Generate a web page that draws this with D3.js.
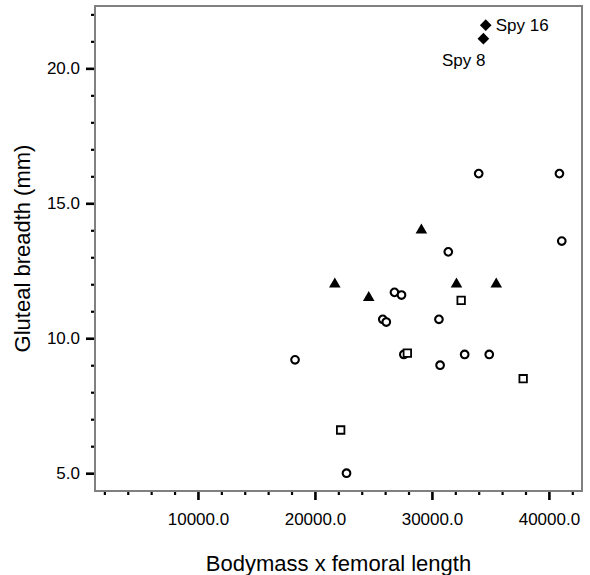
<!DOCTYPE html>
<html>
<head>
<meta charset="utf-8">
<script src="https://cdn.jsdelivr.net/npm/d3@7"></script>
<style>
  body { margin: 0; background: #fff; }
  text { font-family: "Liberation Sans", Arial, sans-serif; fill: #000; }
</style>
</head>
<body>
<div id="chart"></div>
<script>
// data
const circleX = [18300, 22700, 25800, 26100, 26800, 27400, 27600, 30600, 30700, 31400, 32800, 34000, 34900, 40900, 41100];
const circleY = [9.2, 5.0, 10.7, 10.6, 11.7, 11.6, 9.4, 10.7, 9.0, 13.2, 9.4, 16.1, 9.4, 16.1, 13.6];
const triangleX = [21700, 24600, 29100, 32100, 35500];
const triangleY = [12.0, 11.5, 14.0, 12.0, 12.0];
const squareX = [22200, 27900, 32500, 37800];
const squareY = [6.6, 9.45, 11.4, 8.5];
const diamondX = [34400, 34600];
const diamondY = [21.1, 21.6];
const diamondLabels = ["Spy 8", "Spy 16"];
const xTicks = [10000, 20000, 30000, 40000];
const yTicks = [5, 10, 15, 20];

const W = 590, H = 575;
const margin = {top: 6, right: 8, bottom: 84, left: 95};
const width = W - margin.left - margin.right;
const height = H - margin.top - margin.bottom;

const svg = d3.select("#chart").append("svg")
  .attr("width", W)
  .attr("height", H);

const g = svg.append("g")
  .attr("transform", "translate(" + margin.left + "," + margin.top + ")");

var x = d3.scaleLinear().domain([1200, 42830]).range([0, width]);
var y = d3.scaleLinear().domain([4.34, 22.31]).range([height, 0]);

var fmt = d3.format(".1f");

// minor ticks first
var xMinor = d3.range(2000, 42001, 2000).filter(v => v % 10000 !== 0);
var yMinor = d3.range(5, 23, 1).filter(v => v % 5 !== 0);

g.append("g")
  .attr("class", "xminor")
  .attr("transform", "translate(0," + height + ")")
  .call(d3.axisBottom(x).tickValues(xMinor).tickSize(4).tickFormat(""));

g.append("g")
  .attr("class", "yminor")
  .call(d3.axisLeft(y).tickValues(yMinor).tickSize(4).tickFormat(""));

g.append("g")
  .attr("class", "xaxis")
  .attr("transform", "translate(0," + height + ")")
  .call(d3.axisBottom(x).tickValues(xTicks).tickSize(9).tickPadding(13).tickFormat(fmt));

g.append("g")
  .attr("class", "yaxis")
  .call(d3.axisLeft(y).tickValues(yTicks).tickSize(9).tickPadding(6).tickFormat(fmt));

g.selectAll(".domain").remove();
g.selectAll(".tick line").attr("stroke", "#000");
g.selectAll(".xaxis .tick line, .yaxis .tick line").attr("stroke-width", 2.6);
g.selectAll(".xminor .tick line, .yminor .tick line").attr("stroke-width", 2.2);
g.selectAll(".xaxis text, .yaxis text")
  .style("font-size", "17px")
  .attr("fill", "#000");

// frame
g.append("rect")
  .attr("x", 0)
  .attr("y", 0)
  .attr("width", width)
  .attr("height", height)
  .attr("fill", "none")
  .attr("stroke", "#808080")
  .attr("stroke-width", 2);

// axis titles
svg.append("text")
  .attr("x", margin.left + width / 2)
  .attr("y", 571)
  .attr("text-anchor", "middle")
  .style("font-size", "22px")
  .text("Bodymass x femoral length");

svg.append("text")
  .attr("transform", "translate(30," + (margin.top + height / 2) + ") rotate(-90)")
  .attr("text-anchor", "middle")
  .style("font-size", "22px")
  .text("Gluteal breadth (mm)");

// markers
var circleSym = d3.symbol().type(d3.symbolCircle).size(46);
var squareSym = d3.symbol().type(d3.symbolSquare).size(56);
var triSym = d3.symbol().type(d3.symbolTriangle).size(58);
var diaSym = d3.symbol().type(d3.symbolSquare).size(68);

g.selectAll(".circ")
  .data(circleX.map((v, i) => ({x: v, y: circleY[i]})))
  .enter().append("path")
  .attr("class", "circ")
  .attr("d", circleSym)
  .attr("transform", d => "translate(" + x(d.x) + "," + y(d.y) + ")")
  .attr("fill", "#fff")
  .attr("stroke", "#000")
  .attr("stroke-width", 2.1);

g.selectAll(".sq")
  .data(squareX.map((v, i) => ({x: v, y: squareY[i]})))
  .enter().append("path")
  .attr("class", "sq")
  .attr("d", squareSym)
  .attr("transform", d => "translate(" + x(d.x) + "," + y(d.y) + ")")
  .attr("fill", "#fff")
  .attr("stroke", "#000")
  .attr("stroke-width", 1.8);

g.selectAll(".tri")
  .data(triangleX.map((v, i) => ({x: v, y: triangleY[i]})))
  .enter().append("path")
  .attr("class", "tri")
  .attr("d", triSym)
  .attr("transform", d => "translate(" + x(d.x) + "," + y(d.y) + ")")
  .attr("fill", "#000");

var spy = diamondX.map((v, i) => ({x: v, y: diamondY[i], label: diamondLabels[i]}));

g.selectAll(".dia")
  .data(spy)
  .enter().append("path")
  .attr("class", "dia")
  .attr("d", diaSym)
  .attr("transform", d => "translate(" + x(d.x) + "," + y(d.y) + ") rotate(45)")
  .attr("fill", "#000");

// Spy 16 sits right of its marker, Spy 8 below-left of its own
g.selectAll(".spylabel")
  .data(spy)
  .enter().append("text")
  .attr("class", "spylabel")
  .attr("x", d => d.label === "Spy 16" ? x(d.x) + 10 : x(d.x) + 2)
  .attr("y", d => d.label === "Spy 16" ? y(d.y) + 6 : y(d.y) + 27)
  .attr("text-anchor", d => d.label === "Spy 16" ? "start" : "end")
  .style("font-size", "17px")
  .text(d => d.label);
</script>
</body>
</html>
